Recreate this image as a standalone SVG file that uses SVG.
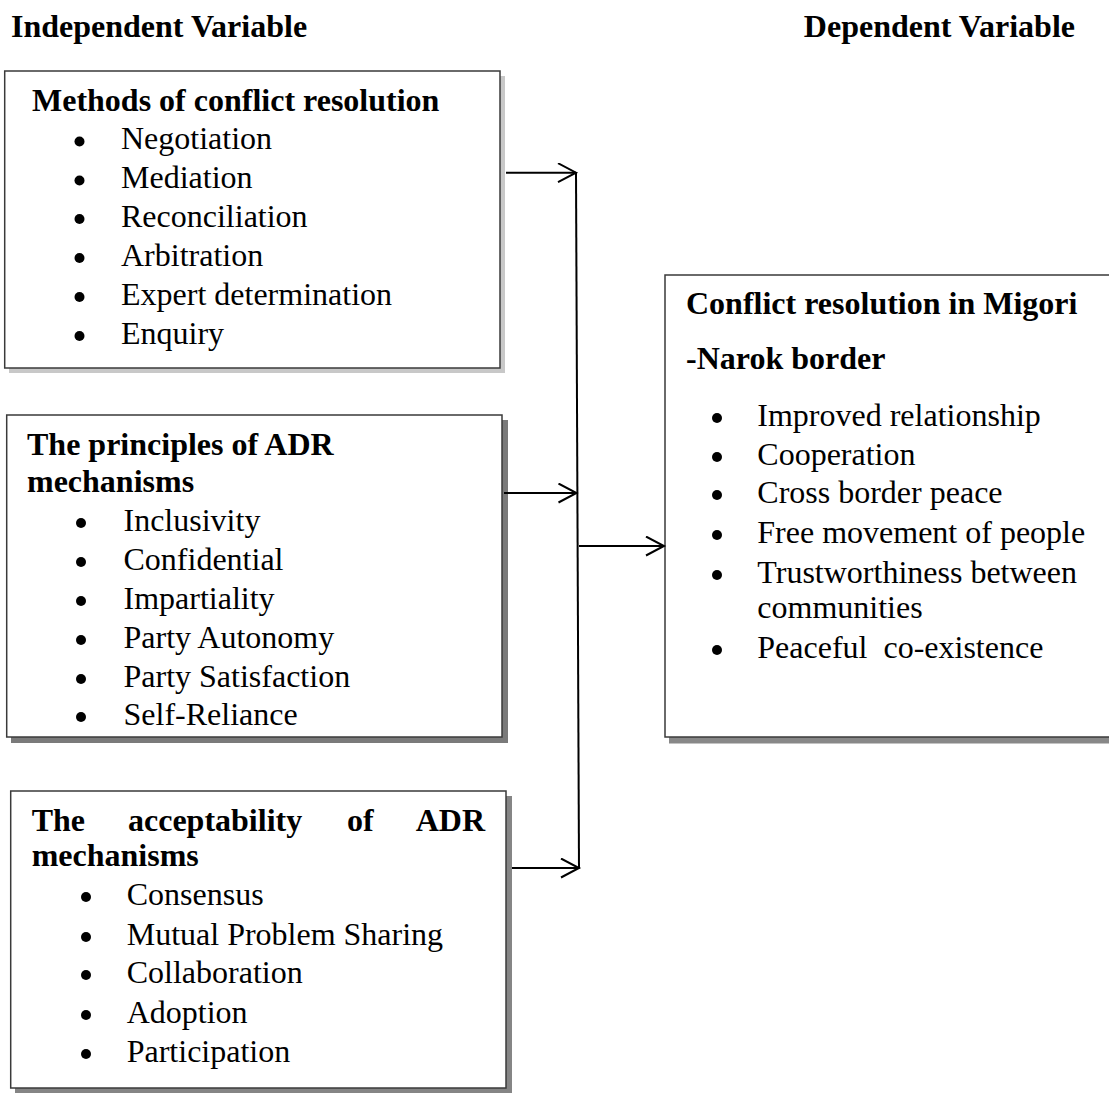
<svg xmlns="http://www.w3.org/2000/svg" width="1109" height="1093" viewBox="0 0 1109 1093">
<style>
text{font-family:"Liberation Serif","Times New Roman",serif;fill:#000}
.hd{font-size:32px;font-weight:bold}
.tt{font-size:32px;font-weight:bold}
.it{font-size:32px}
.box{fill:#fff;stroke:#3a3a3a;stroke-width:1.5}
.bul{fill:#000}
.con{fill:none;stroke:#000;stroke-width:2}
</style>
<defs>
<marker id="arr" markerWidth="22" markerHeight="22" refX="19" refY="10" orient="auto" markerUnits="userSpaceOnUse">
<path d="M1,0.5 L19,10 L1,19.5" fill="none" stroke="#000" stroke-width="2"/>
</marker>
</defs>
<rect width="1109" height="1093" fill="#fff"/>
<g id="headers">
<text class="hd" x="11" y="37">Independent Variable</text>
<text class="hd" x="1075" y="37" text-anchor="end">Dependent Variable</text>
</g>
<g id="node-methods">
<rect x="9" y="76" width="496" height="297" fill="#c8c8c8"/>
<rect class="box" x="4.7" y="71" width="495.3" height="297"/>
<text class="tt" x="32" y="110.7">Methods of conflict resolution</text>
<circle class="bul" cx="79.5" cy="141.5" r="5"/><text class="it" x="121" y="149.3">Negotiation</text>
<circle class="bul" cx="79.5" cy="180.5" r="5"/><text class="it" x="121" y="188.3">Mediation</text>
<circle class="bul" cx="79.5" cy="219" r="5"/><text class="it" x="121" y="226.8">Reconciliation</text>
<circle class="bul" cx="79.5" cy="258" r="5"/><text class="it" x="121" y="266">Arbitration</text>
<circle class="bul" cx="79.5" cy="297" r="5"/><text class="it" x="121" y="305">Expert determination</text>
<circle class="bul" cx="79.5" cy="336" r="5"/><text class="it" x="121" y="344">Enquiry</text>
</g>
<g id="node-principles">
<rect x="11" y="420" width="497" height="323" fill="#7a7a7a"/>
<rect class="box" x="6.7" y="415" width="495.3" height="322"/>
<text class="tt" x="27" y="455">The principles of ADR</text>
<text class="tt" x="27" y="491.7">mechanisms</text>
<circle class="bul" cx="81" cy="523" r="5"/><text class="it" x="123.5" y="530.7">Inclusivity</text>
<circle class="bul" cx="81" cy="562" r="5"/><text class="it" x="123.5" y="570">Confidential</text>
<circle class="bul" cx="81" cy="601" r="5"/><text class="it" x="123.5" y="609">Impartiality</text>
<circle class="bul" cx="81" cy="640" r="5"/><text class="it" x="123.5" y="648">Party Autonomy</text>
<circle class="bul" cx="81" cy="679" r="5"/><text class="it" x="123.5" y="687">Party Satisfaction</text>
<circle class="bul" cx="81" cy="717" r="5"/><text class="it" x="123.5" y="725">Self-Reliance</text>
</g>
<g id="node-acceptability">
<rect x="15" y="796" width="497" height="300" fill="#858585"/>
<rect class="box" x="10.7" y="791" width="495.3" height="297"/>
<text class="tt" x="31.7" y="830.7">The</text>
<text class="tt" x="128" y="830.7">acceptability</text>
<text class="tt" x="347" y="830.7">of</text>
<text class="tt" x="485" y="830.7" text-anchor="end">ADR</text>
<text class="tt" x="31.7" y="866">mechanisms</text>
<circle class="bul" cx="86" cy="897" r="5"/><text class="it" x="126.7" y="905">Consensus</text>
<circle class="bul" cx="86" cy="937" r="5"/><text class="it" x="126.7" y="945">Mutual Problem Sharing</text>
<circle class="bul" cx="86" cy="975" r="5"/><text class="it" x="126.7" y="983">Collaboration</text>
<circle class="bul" cx="86" cy="1015" r="5"/><text class="it" x="126.7" y="1022.7">Adoption</text>
<circle class="bul" cx="86" cy="1054" r="5"/><text class="it" x="126.7" y="1061.7">Participation</text>
</g>
<g id="node-outcome">
<rect x="669" y="280" width="450" height="463.5" fill="#888"/>
<rect class="box" x="665" y="275" width="460" height="462"/>
<text class="tt" x="686" y="314.3">Conflict resolution in Migori</text>
<text class="tt" x="686" y="369">-Narok border</text>
<circle class="bul" cx="717" cy="418" r="5"/><text class="it" x="757.3" y="426">Improved relationship</text>
<circle class="bul" cx="717" cy="457" r="5"/><text class="it" x="757.3" y="465">Cooperation</text>
<circle class="bul" cx="717" cy="495" r="5"/><text class="it" x="757.3" y="503">Cross border peace</text>
<circle class="bul" cx="717" cy="535" r="5"/><text class="it" x="757.3" y="542.7">Free movement of people</text>
<circle class="bul" cx="717" cy="575" r="5"/><text class="it" x="757.3" y="583">Trustworthiness between</text>
<text class="it" x="757.3" y="618">communities</text>
<circle class="bul" cx="717" cy="650" r="5"/><text class="it" x="757.3" y="658" xml:space="preserve">Peaceful  co-existence</text>
</g>
<g id="connectors">
<line class="con" x1="506" y1="172.7" x2="576" y2="172.7" marker-end="url(#arr)"/>
<line class="con" x1="504" y1="493" x2="576.5" y2="493" marker-end="url(#arr)"/>
<line class="con" x1="512" y1="868" x2="579" y2="868" marker-end="url(#arr)"/>
<line class="con" x1="576" y1="172" x2="579" y2="868.5"/>
<line class="con" x1="579" y1="546" x2="664" y2="546" marker-end="url(#arr)"/>
</g>
</svg>
